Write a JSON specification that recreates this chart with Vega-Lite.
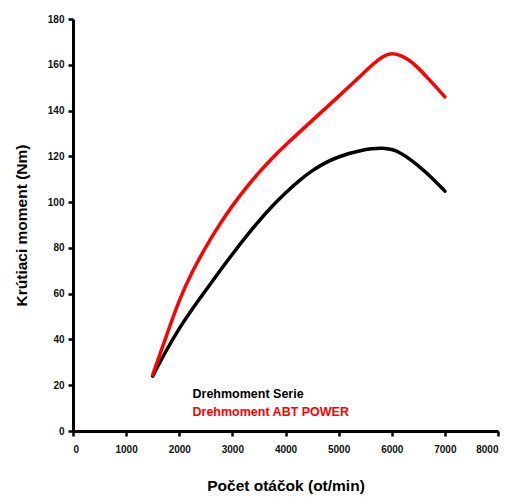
{
  "$schema": "https://vega.github.io/schema/vega-lite/v6.json",
  "width": 425,
  "height": 412,
  "autosize": {"type": "none"},
  "padding": {"left": 73, "top": 19, "right": 16, "bottom": 66},
  "background": "white",
  "config": {
    "view": {"stroke": null},
    "font": "Liberation Sans",
    "axis": {
      "grid": false,
      "domainColor": "black",
      "domainWidth": 3,
      "tickColor": "black",
      "tickWidth": 2.5,
      "tickSize": 5,
      "labelFont": "Liberation Sans",
      "labelFontWeight": "bold",
      "labelFontSize": 10,
      "labelColor": "#111",
      "titleFont": "Liberation Sans",
      "titleFontWeight": "bold",
      "titleFontSize": 15.5,
      "titleColor": "black"
    }
  },
  "data": {
    "values": [
      {"rpm": 1500, "torque": 24, "series": "Drehmoment Serie"},
      {"rpm": 1750, "torque": 35, "series": "Drehmoment Serie"},
      {"rpm": 2000, "torque": 45, "series": "Drehmoment Serie"},
      {"rpm": 2250, "torque": 53.5, "series": "Drehmoment Serie"},
      {"rpm": 2500, "torque": 61.5, "series": "Drehmoment Serie"},
      {"rpm": 2750, "torque": 69.5, "series": "Drehmoment Serie"},
      {"rpm": 3000, "torque": 77.3, "series": "Drehmoment Serie"},
      {"rpm": 3250, "torque": 84.8, "series": "Drehmoment Serie"},
      {"rpm": 3500, "torque": 91.8, "series": "Drehmoment Serie"},
      {"rpm": 3750, "torque": 98.3, "series": "Drehmoment Serie"},
      {"rpm": 4000, "torque": 104.1, "series": "Drehmoment Serie"},
      {"rpm": 4250, "torque": 109.3, "series": "Drehmoment Serie"},
      {"rpm": 4500, "torque": 113.8, "series": "Drehmoment Serie"},
      {"rpm": 4750, "torque": 117.3, "series": "Drehmoment Serie"},
      {"rpm": 5000, "torque": 119.9, "series": "Drehmoment Serie"},
      {"rpm": 5400, "torque": 122.7, "series": "Drehmoment Serie"},
      {"rpm": 5850, "torque": 124, "series": "Drehmoment Serie"},
      {"rpm": 6150, "torque": 122.2, "series": "Drehmoment Serie"},
      {"rpm": 6500, "torque": 116, "series": "Drehmoment Serie"},
      {"rpm": 6750, "torque": 110.8, "series": "Drehmoment Serie"},
      {"rpm": 7000, "torque": 104.8, "series": "Drehmoment Serie"},
      {"rpm": 1500, "torque": 24.5, "series": "Drehmoment ABT POWER"},
      {"rpm": 1750, "torque": 41, "series": "Drehmoment ABT POWER"},
      {"rpm": 2000, "torque": 57.5, "series": "Drehmoment ABT POWER"},
      {"rpm": 2250, "torque": 70, "series": "Drehmoment ABT POWER"},
      {"rpm": 2500, "torque": 80.5, "series": "Drehmoment ABT POWER"},
      {"rpm": 2750, "torque": 90, "series": "Drehmoment ABT POWER"},
      {"rpm": 3000, "torque": 98.5, "series": "Drehmoment ABT POWER"},
      {"rpm": 3250, "torque": 106.1, "series": "Drehmoment ABT POWER"},
      {"rpm": 3500, "torque": 113, "series": "Drehmoment ABT POWER"},
      {"rpm": 3750, "torque": 119.2, "series": "Drehmoment ABT POWER"},
      {"rpm": 4000, "torque": 125, "series": "Drehmoment ABT POWER"},
      {"rpm": 4500, "torque": 135.6, "series": "Drehmoment ABT POWER"},
      {"rpm": 5000, "torque": 146.2, "series": "Drehmoment ABT POWER"},
      {"rpm": 5400, "torque": 154.8, "series": "Drehmoment ABT POWER"},
      {"rpm": 5650, "torque": 160.5, "series": "Drehmoment ABT POWER"},
      {"rpm": 5850, "torque": 164, "series": "Drehmoment ABT POWER"},
      {"rpm": 6000, "torque": 165.2, "series": "Drehmoment ABT POWER"},
      {"rpm": 6200, "torque": 164, "series": "Drehmoment ABT POWER"},
      {"rpm": 6400, "torque": 161, "series": "Drehmoment ABT POWER"},
      {"rpm": 6650, "torque": 155, "series": "Drehmoment ABT POWER"},
      {"rpm": 7000, "torque": 146, "series": "Drehmoment ABT POWER"}
    ]
  },
  "mark": {"type": "line", "interpolate": "basis", "strokeWidth": 3.5, "strokeCap": "round"},
  "encoding": {
    "x": {
      "field": "rpm", "type": "quantitative",
      "scale": {"domain": [0, 8000], "nice": false},
      "axis": {"values": [0,1000,2000,3000,4000,5000,6000,7000,8000], "format": "d", "title": "Počet otáčok (ot/min)", "titlePadding": 24, "labelPadding": 8}
    },
    "y": {
      "field": "torque", "type": "quantitative",
      "scale": {"domain": [0, 180], "nice": false},
      "axis": {"values": [0,20,40,60,80,100,120,140,160,180], "format": "d", "title": "Krútiaci moment (Nm)", "titlePadding": 18, "labelPadding": 4}
    },
    "color": {
      "field": "series", "type": "nominal",
      "scale": {"domain": ["Drehmoment Serie", "Drehmoment ABT POWER"], "range": ["black", "#ff0000"]},
      "legend": {
        "title": null,
        "orient": "none",
        "legendX": 107,
        "legendY": 369,
        "symbolSize": 0,
        "symbolOpacity": 0,
        "symbolStrokeWidth": 0,
        "labelOffset": 0,
        "labelFont": "Liberation Sans",
        "labelFontWeight": "bold",
        "labelFontSize": 12.5,
        "rowPadding": 5,
        "encode": {"labels": {"update": {"fill": {"scale": "color", "field": "value"}}}}
      }
    }
  }
}
